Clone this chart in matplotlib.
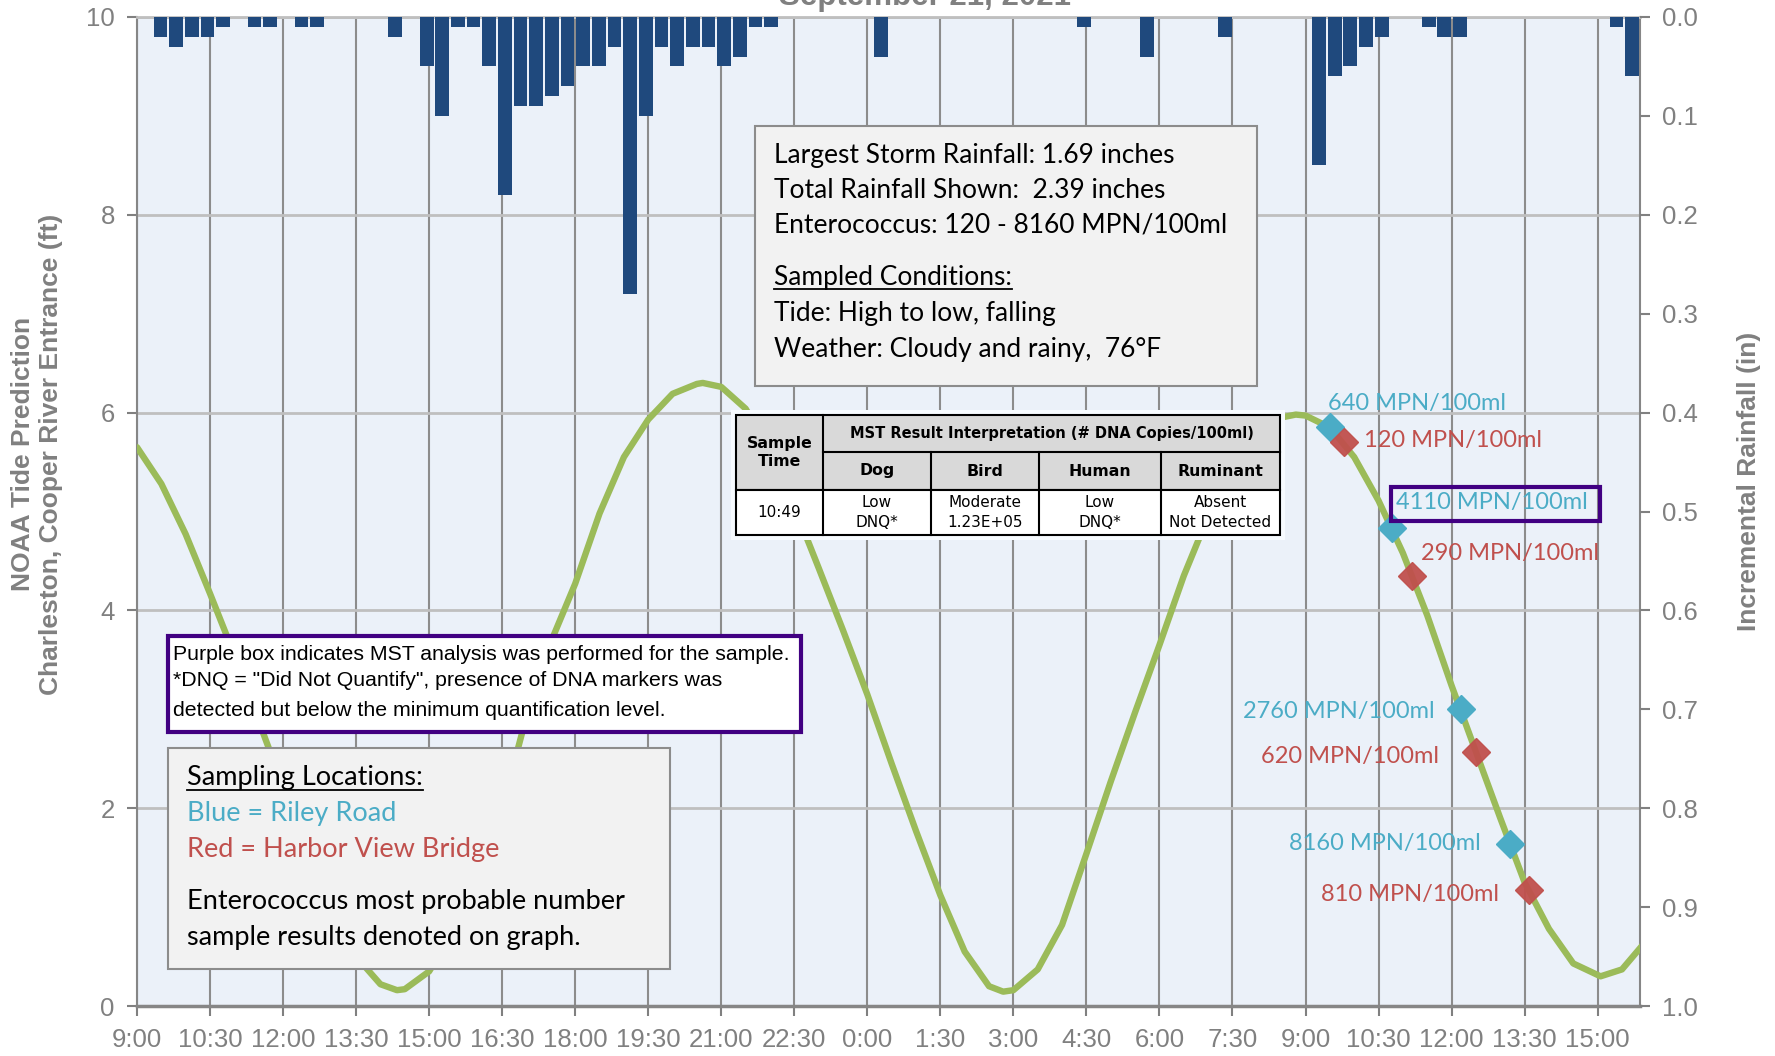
import matplotlib
matplotlib.use('Agg')
import matplotlib.pyplot as plt
from matplotlib.patches import Rectangle
from matplotlib.lines import Line2D
import numpy as np

# ---- data ----
TICK_LABELS = ['9:00', '10:30', '12:00', '13:30', '15:00', '16:30', '18:00', '19:30', '21:00',
               '22:30', '0:00', '1:30', '3:00', '4:30', '6:00', '7:30', '9:00', '10:30',
               '12:00', '13:30', '15:00']
X_END = 30.87  # hours after 9:00 on the first day

# NOAA tide prediction (hours after 9:00, ft)
tide_hours = [0.0, 0.5, 1.0, 1.5, 2.0, 2.5, 3.0, 3.5, 4.0, 4.5, 5.0, 5.34, 5.5, 6.0, 6.5, 7.0,
              7.5, 8.0, 8.5, 9.0, 9.5, 10.0, 10.5, 11.0, 11.5, 11.62, 12.0, 12.5, 13.0, 13.5,
              14.0, 14.5, 15.0, 15.5, 16.0, 16.5, 17.0, 17.5, 17.79, 18.0, 18.5, 19.0, 19.5,
              20.0, 20.5, 21.0, 21.5, 22.0, 22.5, 23.0, 23.5, 23.8, 24.0, 24.5, 25.0, 25.5,
              26.0, 26.5, 27.0, 27.5, 28.0, 28.5, 29.0, 29.5, 30.06, 30.5, 31.0]
tide_ft = [5.65, 5.28, 4.77, 4.17, 3.55, 2.88, 2.22, 1.58, 1.00, 0.50, 0.22, 0.16, 0.17, 0.35,
           0.75, 1.30, 2.00, 2.93, 3.68, 4.27, 4.98, 5.55, 5.93, 6.19, 6.29, 6.30, 6.26, 6.04,
           5.62, 5.05, 4.43, 3.80, 3.15, 2.45, 1.77, 1.12, 0.55, 0.20, 0.145, 0.16, 0.37, 0.82,
           1.54, 2.27, 2.97, 3.65, 4.35, 4.95, 5.42, 5.75, 5.95, 5.98, 5.97, 5.85, 5.55, 5.11,
           4.58, 3.95, 3.24, 2.57, 1.90, 1.25, 0.78, 0.43, 0.30, 0.37, 0.66]

# incremental rainfall (in), one value per bar slot across the chart
rain_in = [0.00, 0.02, 0.03, 0.02, 0.02, 0.01, 0.00, 0.01, 0.01, 0.00, 0.01, 0.01,
           0.00, 0.00, 0.00, 0.00, 0.02, 0.00, 0.05, 0.10, 0.01, 0.01, 0.05, 0.18,
           0.09, 0.09, 0.08, 0.07, 0.05, 0.05, 0.03, 0.28, 0.10, 0.03, 0.05, 0.03,
           0.03, 0.05, 0.04, 0.01, 0.01, 0.00, 0.00, 0.00, 0.00, 0.00, 0.00, 0.04,
           0.00, 0.00, 0.00, 0.00, 0.00, 0.00, 0.00, 0.00, 0.00, 0.00, 0.00, 0.00,
           0.01, 0.00, 0.00, 0.00, 0.04, 0.00, 0.00, 0.00, 0.00, 0.02, 0.00, 0.00,
           0.00, 0.00, 0.00, 0.15, 0.06, 0.05, 0.03, 0.02, 0.00, 0.00, 0.01, 0.02,
           0.02, 0.00, 0.00, 0.00, 0.00, 0.00, 0.00, 0.00, 0.00, 0.00, 0.01, 0.06]

# sample results on Sept 21 (clock time, tide ft, label)
blue_times = ['9:30', '10:47', '12:11', '13:12']
blue_ft = [5.85, 4.83, 3.00, 1.64]
blue_labels = ['640 MPN/100ml', '4110 MPN/100ml', '2760 MPN/100ml', '8160 MPN/100ml']
red_times = ['9:47', '11:11', '12:30', '13:36']
red_ft = [5.70, 4.35, 2.57, 1.17]
red_labels = ['120 MPN/100ml', '290 MPN/100ml', '620 MPN/100ml', '810 MPN/100ml']

info_lines = ['Largest Storm Rainfall: 1.69 inches', 'Total Rainfall Shown:  2.39 inches',
              'Enterococcus: 120 - 8160 MPN/100ml']
cond_lines = ['Tide: High to low, falling', 'Weather: Cloudy and rainy,  76°F']
mst_species = ['Dog', 'Bird', 'Human', 'Ruminant']
mst_results = ['Low\nDNQ*', 'Moderate\n1.23E+05', 'Low\nDNQ*', 'Absent\nNot Detected']
mst_time = '10:49'

BLUE = '#4BACC6'
RED = '#C0504D'
GREEN = '#9BBB59'
NAVY = '#1F497D'
PURPLE = '#410082'
GRAY_TXT = '#808080'
CAL = ['Lato', 'DejaVu Sans']
ARIAL = ['Liberation Sans', 'DejaVu Sans']


def clock_to_hours(s):
    h, m = s.split(':')
    return 24 + int(h) + int(m) / 60.0 - 9


W, H = 1775, 1056
fig = plt.figure(figsize=(W / 100, H / 100), dpi=100)


def fx(x):
    return x / W


def fy(y):
    return 1 - y / H


ax = fig.add_axes([fx(137), fy(1006), fx(1640) - fx(137), fy(17) - fy(1006)])
ax.set_facecolor('#EBF1F9')
ax.set_xlim(0, X_END)
ax.set_ylim(0, 10)
ax.set_yticks(range(0, 11, 2))
ax.set_xticks(np.arange(len(TICK_LABELS)) * 1.5)
ax.set_xticklabels(TICK_LABELS, family=ARIAL)
ax.grid(axis='y', color='#BFBFBF', lw=2)
ax.grid(axis='x', color='#8C8C8C', lw=1.5)
ax.set_axisbelow(True)
ax.tick_params(axis='both', labelsize=18.5, labelcolor=GRAY_TXT, color='#808080',
               length=7, width=1.5, direction='out')
ax.tick_params(axis='x', pad=9)
ax.tick_params(axis='y', pad=9)
for lab in ax.get_yticklabels():
    lab.set_family(ARIAL)
for side in ['left', 'right']:
    ax.spines[side].set_color('#868686')
    ax.spines[side].set_linewidth(1.5)
ax.spines['bottom'].set_color('#868686')
ax.spines['bottom'].set_linewidth(2.5)
ax.spines['top'].set_color('#BFBFBF')
ax.spines['top'].set_linewidth(2)

ax.plot(tide_hours, tide_ft, color=GREEN, lw=4.6, solid_joinstyle='round',
        solid_capstyle='round', zorder=3)
blue_t = [clock_to_hours(s) for s in blue_times]
red_t = [clock_to_hours(s) for s in red_times]
ax.plot(blue_t, blue_ft, 'D', ms=14.5, color=BLUE, mec=BLUE, zorder=4)
ax.plot(red_t, red_ft, 'D', ms=14.5, color=RED, mec=RED, alpha=0.95, zorder=5)

# label offsets in pixels (dx, dy, ha)
blue_offsets = [(-2, 24, 'left'), (4, 26, 'left'), (-26, -2, 'right'), (-29, 0, 'right')]
red_offsets = [(20, 2, 'left'), (9, 22, 'left'), (-37, -5, 'right'), (-30, -4, 'right')]
for t, v, lab, (dx, dy, ha) in zip(blue_t, blue_ft, blue_labels, blue_offsets):
    ax.annotate(lab, (t, v), xytext=(dx, dy), textcoords='offset pixels', ha=ha, va='center',
                color=BLUE, fontsize=17, family=CAL, zorder=6)
for t, v, lab, (dx, dy, ha) in zip(red_t, red_ft, red_labels, red_offsets):
    ax.annotate(lab, (t, v), xytext=(dx, dy), textcoords='offset pixels', ha=ha, va='center',
                color=RED, fontsize=17, family=CAL, zorder=6)

# rainfall on the secondary axis, hanging from the top
ax2 = ax.twinx()
ax2.set_ylim(1.0, 0.0)
slot_w = X_END / len(rain_in)
slot_x = (np.arange(len(rain_in)) + 0.5) * slot_w
ax2.bar(slot_x, rain_in, width=slot_w * 0.88, color=NAVY, zorder=2)
ax2.set_yticks(np.arange(0, 1.01, 0.1))
ax2.set_yticklabels(['%.1f' % v for v in np.arange(0, 1.01, 0.1)], family=ARIAL)
ax2.tick_params(axis='y', labelsize=18.5, labelcolor=GRAY_TXT, color='#808080',
                length=7, width=1.5, direction='out', pad=9)
for sp in ax2.spines.values():
    sp.set_visible(False)

# titles (the chart title is cropped at the top edge in the original)
fig.text(fx(925), fy(5), 'September 21, 2021', ha='center', va='baseline', fontsize=22.5,
         weight='bold', color=GRAY_TXT, family=ARIAL)
fig.text(fx(37), fy(454), 'NOAA Tide Prediction\nCharleston, Cooper River Entrance (ft)',
         rotation=90, ha='center', va='center', multialignment='center', fontsize=19,
         weight='bold', color=GRAY_TXT, family=ARIAL, linespacing=1.25)
fig.text(fx(1749), fy(481), 'Incremental Rainfall (in)', rotation=90, ha='center',
         va='center', fontsize=19, weight='bold', color=GRAY_TXT, family=ARIAL)


def box(x0, y0, x1, y1, face, edge, lw):
    fig.patches.append(Rectangle((fx(x0), fy(y1)), fx(x1) - fx(x0), fy(y0) - fy(y1),
                                 transform=fig.transFigure, facecolor=face, edgecolor=edge,
                                 lw=lw, zorder=2))


underline = []
BOX_FS = 19.5
INFO_FS = 19

# info box
box(755, 126, 1257, 386, '#F2F2F2', '#8C8C8C', 1.5)
for y, s in zip([155, 190, 225], info_lines):
    fig.text(fx(774), fy(y), s, va='center', fontsize=INFO_FS, family=CAL, zorder=3)
underline.append(fig.text(fx(774), fy(277), 'Sampled Conditions:', va='center', fontsize=INFO_FS,
                          family=CAL, zorder=3))
for y, s in zip([314, 350], cond_lines):
    fig.text(fx(774), fy(y), s, va='center', fontsize=INFO_FS, family=CAL, zorder=3)

# purple note box
box(168, 636, 801, 732, 'white', PURPLE, 3)
for y, s in zip([655, 681, 711], ['Purple box indicates MST analysis was performed for the sample.',
                                  '*DNQ = "Did Not Quantify", presence of DNA markers was',
                                  'detected but below the minimum quantification level.']):
    fig.text(fx(173), fy(y), s, va='center', fontsize=15.3, family=ARIAL, zorder=3)

# sampling locations box
box(168, 748, 670, 969, '#F2F2F2', '#8C8C8C', 1.5)
underline.append(fig.text(fx(187), fy(778), 'Sampling Locations:', va='center', fontsize=BOX_FS,
                          family=CAL, zorder=3))
fig.text(fx(187), fy(813), 'Blue = Riley Road', va='center', fontsize=BOX_FS, family=CAL,
         color=BLUE, zorder=3)
fig.text(fx(187), fy(849), 'Red = Harbor View Bridge', va='center', fontsize=BOX_FS, family=CAL,
         color=RED, zorder=3)
fig.text(fx(187), fy(901), 'Enterococcus most probable number', va='center', fontsize=BOX_FS,
         family=CAL, zorder=3)
fig.text(fx(187), fy(937), 'sample results denoted on graph.', va='center', fontsize=BOX_FS,
         family=CAL, zorder=3)

# purple frame around the MST-tested result
box(1391, 487, 1600, 521, 'none', PURPLE, 3)

# MST table
cols = [736, 823, 931, 1039, 1161, 1280]
rows = [415, 452, 490, 535]
box(731, 410, 1285, 540, '#F7FBFF', 'none', 0)
box(cols[0], rows[0], cols[-1], rows[2], '#D9D9D9', 'black', 1.5)
box(cols[0], rows[2], cols[-1], rows[3], 'white', 'black', 1.5)
tbl_lines = [([cols[1], cols[1]], [rows[0], rows[3]]),
             ([cols[1], cols[-1]], [rows[1], rows[1]])]
for c in cols[2:-1]:
    tbl_lines.append(([c, c], [rows[1], rows[3]]))
for xs, ys in tbl_lines:
    fig.add_artist(Line2D([fx(v) for v in xs], [fy(v) for v in ys], color='black', lw=1.5,
                          transform=fig.transFigure, zorder=3))
TBL = ['DejaVu Sans']
fig.text(fx((cols[0] + cols[1]) / 2), fy((rows[0] + rows[2]) / 2), 'Sample\nTime', ha='center',
         va='center', fontsize=11.3, weight='bold', family=TBL, zorder=4, linespacing=1.3)
fig.text(fx((cols[1] + cols[-1]) / 2), fy((rows[0] + rows[1]) / 2),
         'MST Result Interpretation (# DNA Copies/100ml)', ha='center', va='center', fontsize=10.5,
         weight='bold', family=TBL, zorder=4)
for i, sp in enumerate(mst_species):
    fig.text(fx((cols[i + 1] + cols[i + 2]) / 2), fy((rows[1] + rows[2]) / 2), sp, ha='center',
             va='center', fontsize=11.3, weight='bold', family=TBL, zorder=4)
    fig.text(fx((cols[i + 1] + cols[i + 2]) / 2), fy((rows[2] + rows[3]) / 2), mst_results[i],
             ha='center', va='center', fontsize=11, family=TBL, zorder=4, linespacing=1.4)
fig.text(fx((cols[0] + cols[1]) / 2), fy((rows[2] + rows[3]) / 2), mst_time, ha='center',
         va='center', fontsize=11, family=TBL, zorder=4)

# underline headings
fig.canvas.draw()
for t in underline:
    bb = t.get_window_extent()
    fig.add_artist(Line2D([bb.x0 / W, bb.x1 / W], [(bb.y0 + 1) / H, (bb.y0 + 1) / H],
                          color='black', lw=1.3, transform=fig.transFigure, zorder=4))

fig.savefig('out.png', dpi=100)
